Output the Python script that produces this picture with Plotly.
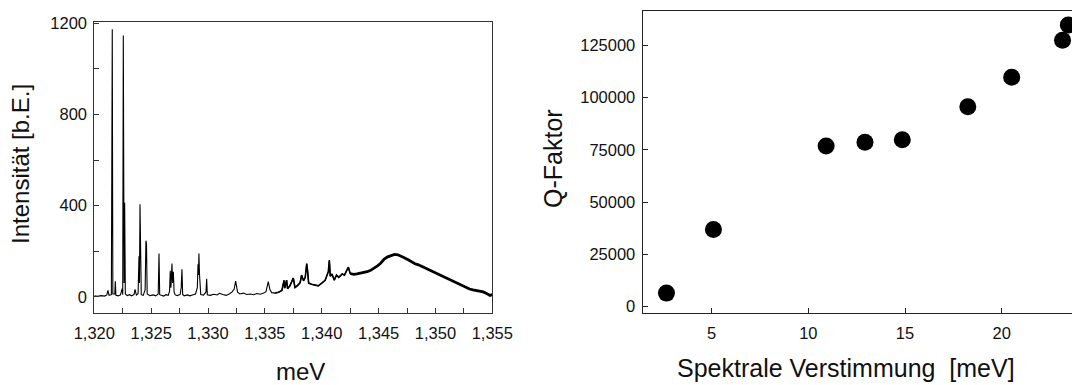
import plotly.graph_objects as go

# Photoluminescence spectrum (left panel): photon energy vs. intensity
energy = [
    1.3200, 1.3203, 1.3206, 1.3209, 1.3211, 1.3212, 1.3213, 1.3215, 1.32158, 1.32163,
    1.3218, 1.32185, 1.3219, 1.3221, 1.3223, 1.32245, 1.3225, 1.32255, 1.32262, 1.32267,
    1.32273, 1.3229, 1.3231, 1.3233, 1.3235, 1.32358, 1.3237, 1.32385, 1.32393, 1.32397,
    1.32402, 1.32408, 1.32413, 1.3243, 1.32447, 1.32454, 1.32459, 1.32465, 1.3249, 1.3252,
    1.3254, 1.32562, 1.32569, 1.32575, 1.3259, 1.3261, 1.3263, 1.3265, 1.32662, 1.32668,
    1.32674, 1.32683, 1.32688, 1.32695, 1.32702, 1.32712, 1.3273, 1.32755, 1.32764, 1.32771,
    1.32777, 1.3279, 1.3282, 1.3284, 1.3287, 1.3289, 1.32906, 1.32912, 1.32916, 1.32920,
    1.32925, 1.3293, 1.32936, 1.3296, 1.32982, 1.32988, 1.32994, 1.3302, 1.3305, 1.3308,
    1.3310, 1.3313, 1.3316, 1.3319, 1.3321, 1.3323, 1.33243, 1.3326, 1.3328, 1.3331,
    1.3334, 1.3337, 1.3340, 1.3343, 1.3346, 1.3349, 1.3351, 1.3353, 1.33545, 1.3356,
    1.3359, 1.3362, 1.3365, 1.33668, 1.33675, 1.33691, 1.33700, 1.3372, 1.3375, 1.33765,
    1.3379, 1.3381, 1.33823, 1.3384, 1.33855, 1.33868, 1.33875, 1.33885, 1.3391, 1.3394,
    1.3397, 1.3400, 1.3403, 1.34058, 1.34067, 1.34075, 1.3409, 1.3411, 1.3413, 1.3415,
    1.3418, 1.3420, 1.34234, 1.3425, 1.3428, 1.3431, 1.3434, 1.3437, 1.3440, 1.3443,
    1.3446, 1.3449, 1.3452, 1.3455, 1.3458, 1.3461, 1.3464, 1.3467, 1.3470, 1.3473,
    1.3476, 1.3479, 1.3482, 1.3485, 1.3488, 1.3491, 1.3494, 1.3497, 1.3500, 1.3503,
    1.3506, 1.3509, 1.3512, 1.3515, 1.3518, 1.3521, 1.3524, 1.3527, 1.3530, 1.3533,
    1.3536, 1.3539, 1.3542, 1.3545, 1.3548, 1.3550,
]
intensity = [
    4, 2, 5, 3, 8, 28, 6, 9, 1174, 12,
    12, 68, 6, 4, 8, 36, 9, 1146, 60, 412,
    12, 5, 9, 4, 10, 32, 7, 13, 178, 60,
    406, 138, 9, 6, 30, 246, 232, 12, 5, 8,
    4, 12, 190, 9, 6, 3, 9, 6, 25, 114,
    40, 146, 60, 110, 20, 8, 5, 10, 40, 121,
    10, 4, 8, 4, 9, 12, 40, 142, 95, 190,
    100, 59, 10, 7, 20, 79, 9, 6, 11, 8,
    15, 10, 6, 13, 20, 34, 69, 20, 12, 16,
    10, 12, 9, 14, 11, 16, 22, 66, 30, 18,
    16, 20, 28, 72, 38, 73, 35, 48, 82, 40,
    50, 62, 95, 70, 85, 145, 117, 60, 55, 50,
    48, 60, 72, 110, 160, 90, 100, 73, 95, 85,
    100, 95, 130, 102, 98, 100, 103, 106, 110, 116,
    124, 135, 148, 165, 175, 181, 186, 184, 178, 170,
    162, 153, 145, 140, 133, 127, 120, 113, 106, 99,
    91, 84, 77, 70, 62, 54, 47, 40, 34, 30,
    27, 24, 21, 14, 6, 9,
]

spec_xticks = [1.320, 1.3225, 1.325, 1.3275, 1.330, 1.3325, 1.335, 1.3375,
               1.340, 1.3425, 1.345, 1.3475, 1.350, 1.3525, 1.355]
spec_xtext = ["1,320", "", "1,325", "", "1,330", "", "1,335", "",
              "1,340", "", "1,345", "", "1,350", "", "1,355"]
spec_yticks = [0, 200, 400, 600, 800, 1000, 1200]
spec_ytext = ["0", "", "400", "", "800", "", "1200"]

# Quality factor vs. spectral detuning (right panel)
detuning = [2.66, 5.09, 10.92, 12.93, 14.86, 18.25, 20.52, 23.15, 23.45]
q_factor = [6400, 36900, 76800, 78600, 79800, 95600, 109700, 127400, 134700]

q_xticks = [5, 10, 15, 20]
q_xtext = ["5", "10", "15", "20"]
q_yticks = [0, 25000, 50000, 75000, 100000, 125000]
q_ytext = ["0", "25000", "50000", "75000", "100000", "125000"]

FONT = "Liberation Sans, Arial, sans-serif"
W, H = 1072, 385

fig = go.Figure()

# whole spectrum as a thin line
fig.add_trace(go.Scatter(x=energy, y=intensity, mode="lines",
                         line=dict(color="#000000", width=1.1),
                         xaxis="x", yaxis="y", showlegend=False, hoverinfo="skip"))
# noisier background emission drawn as a heavier stroke
i_mid = energy.index(1.3359)
i_hump = energy.index(1.3425)
fig.add_trace(go.Scatter(x=energy[i_mid:i_hump + 1], y=intensity[i_mid:i_hump + 1], mode="lines",
                         line=dict(color="#000000", width=1.6),
                         xaxis="x", yaxis="y", showlegend=False, hoverinfo="skip"))
fig.add_trace(go.Scatter(x=energy[i_hump:], y=intensity[i_hump:], mode="lines",
                         line=dict(color="#000000", width=2.8),
                         xaxis="x", yaxis="y", showlegend=False, hoverinfo="skip"))

fig.add_trace(go.Scatter(x=detuning, y=q_factor, mode="markers",
                         marker=dict(color="#000000", size=17, line=dict(width=0)),
                         xaxis="x2", yaxis="y2", showlegend=False, hoverinfo="skip"))


def px_x(p):
    return p / W


def px_y(p):
    return 1 - p / H


tick_font_l = dict(family=FONT, size=16.5, color="#111111")
tick_font_r = dict(family=FONT, size=16.5, color="#111111")

common = dict(showgrid=False, zeroline=False, automargin=False, ticks="inside", ticklen=5)

fig.update_layout(
    width=W, height=H,
    margin=dict(l=0, r=0, t=0, b=0, pad=0, autoexpand=False),
    paper_bgcolor="white", plot_bgcolor="white",
    xaxis=dict(domain=[px_x(94.3), px_x(492.3)], range=[1.320, 1.355],
               tickmode="array", tickvals=spec_xticks, ticktext=spec_xtext,
               tickcolor="#333333",
               showline=True, linecolor="#333333", linewidth=1, mirror=True,
               tickfont=tick_font_l, anchor="y", ticklabelstandoff=5, **common),
    yaxis=dict(domain=[px_y(312.7), px_y(21.7)], range=[-70, 1207],
               tickmode="array", tickvals=spec_yticks, ticktext=spec_ytext,
               tickcolor="#333333",
               showline=True, linecolor="#333333", linewidth=1, mirror=True,
               tickfont=tick_font_l, anchor="x", ticklabelstandoff=3, **common),
    xaxis2=dict(domain=[px_x(642.7), 1.0], range=[1.43, 23.64],
                tickmode="array", tickvals=q_xticks, ticktext=q_xtext,
                tickcolor="#222222",
                showline=True, linecolor="#222222", linewidth=1.2, mirror=True,
                tickfont=tick_font_r, anchor="y2", ticklabelstandoff=5, **common),
    yaxis2=dict(domain=[px_y(312.7), px_y(11)], range=[-2967, 141400],
                tickmode="array", tickvals=q_yticks, ticktext=q_ytext,
                tickcolor="#222222",
                showline=True, linecolor="#222222", linewidth=1.2, mirror=False,
                tickfont=tick_font_r, anchor="x2", ticklabelstandoff=3, **common),
)

title_font_l = dict(family=FONT, size=24, color="#111111")
title_font_r = dict(family=FONT, size=25, color="#111111")

annotations = [
    dict(text="meV", x=px_x(300), y=px_y(371.5), font=title_font_l),
    dict(text="Intensität [b.E.]", x=px_x(21), y=px_y(164), textangle=-90, font=title_font_l),
    dict(text="Spektrale Verstimmung \u00a0[meV]", x=px_x(845.5), y=px_y(367.5), font=title_font_r),
    dict(text="Q-Faktor", x=px_x(553), y=px_y(159), textangle=-90, font=title_font_r),
]
for a in annotations:
    a.update(xref="paper", yref="paper", showarrow=False, xanchor="center", yanchor="middle")
fig.update_layout(annotations=annotations)

fig.write_html("out.html")
